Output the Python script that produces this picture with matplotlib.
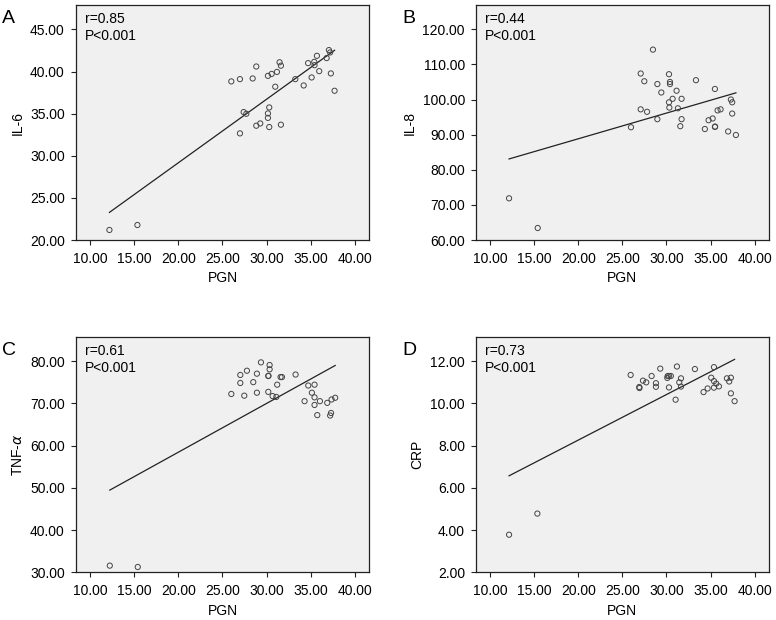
import numpy as np
import matplotlib.pyplot as plt

plt.rcParams['font.family'] = ['Liberation Sans', 'DejaVu Sans']

# PGN (x) and marker values, one panel at a time
pgn_a = [12.19, 15.36, 26.0, 26.98, 28.42, 28.83, 30.15, 30.57, 31.17, 31.47, 31.62, 30.98,
         33.25, 34.2, 34.7, 35.1, 35.4, 35.43, 35.7, 35.96, 36.8, 37.06, 37.2, 37.28, 37.7,
         27.4, 27.7, 30.3, 30.15, 30.15, 28.83, 29.28, 30.3, 31.62, 26.98]
il6 = [21.19, 21.78, 38.83, 39.1, 39.18, 40.6, 39.49, 39.72, 39.96, 41.1, 40.7, 38.2,
       39.1, 38.35, 41.0, 39.3, 41.15, 40.76, 41.87, 40.05, 41.6, 42.55, 42.27, 39.78, 37.72,
       35.19, 34.99, 35.74, 35.03, 34.5, 33.57, 33.84, 33.41, 33.69, 32.66]

pgn_b = [12.15, 15.40, 28.47, 27.08, 27.49, 28.97, 29.42, 30.29, 30.4, 30.4, 31.15, 30.7,
         31.72, 30.29, 30.33, 31.3, 33.35, 35.5, 27.08, 27.8, 28.97, 25.98, 31.72, 31.57,
         34.36, 34.78, 35.24, 35.5, 35.52, 35.8, 36.14, 37.31, 37.46, 37.46, 37.0, 37.88]
il8 = [71.87, 63.42, 114.2, 107.4, 105.2, 104.4, 102.0, 107.2, 105.0, 104.4, 102.5, 100.2,
       100.2, 99.2, 97.7, 97.5, 105.5, 103.0, 97.2, 96.5, 94.4, 92.1, 94.4, 92.4,
       91.6, 94.1, 94.6, 92.2, 92.3, 96.9, 97.2, 100.0, 99.2, 96.0, 90.9, 89.9]

pgn_c = [12.23, 15.40, 29.36, 30.34, 30.34, 30.19, 30.21, 27.77, 28.9, 27.02, 27.02, 28.49,
         31.58, 31.74, 33.28, 31.2, 26.0, 27.47, 28.9, 30.19, 30.68, 31.1, 34.72, 35.43,
         35.13, 35.43, 34.3, 35.43, 36.04, 36.87, 37.36, 37.77, 35.74, 37.2, 37.3]
tnf = [31.58, 31.26, 79.68, 79.05, 78.03, 76.45, 76.5, 77.7, 77.0, 76.7, 74.8, 75.0,
       76.2, 76.2, 76.8, 74.4, 72.2, 71.8, 72.5, 72.7, 71.7, 71.5, 74.2, 74.4,
       72.5, 71.4, 70.5, 69.6, 70.5, 70.1, 70.9, 71.3, 67.2, 67.1, 67.7]

pgn_d = [12.15, 15.36, 25.94, 27.34, 27.71, 26.92, 26.94, 28.32, 28.81, 28.81, 29.3, 30.1,
         30.14, 30.3, 30.5, 30.29, 31.19, 31.46, 31.65, 31.65, 31.04, 33.23, 34.21, 34.67,
         35.39, 35.08, 35.39, 35.39, 35.65, 35.95, 36.86, 37.12, 37.31, 37.31, 37.73]
crp = [3.78, 4.78, 11.34, 11.07, 10.99, 10.77, 10.72, 11.29, 10.95, 10.78, 11.64, 11.2,
       11.29, 11.29, 11.29, 10.75, 11.74, 10.99, 11.18, 10.79, 10.17, 11.62, 10.53, 10.70,
       11.71, 11.21, 11.05, 10.74, 10.93, 10.80, 11.18, 11.03, 11.21, 10.47, 10.10]

# fit lines as drawn in the figure (slope, intercept)
fits = [(0.7545, 14.08), (0.7314, 74.19), (1.1546, 35.33), (0.2154, 3.95)]
r_text = ['r=0.85', 'r=0.44', 'r=0.61', 'r=0.73']
letters = ['A', 'B', 'C', 'D']
ylabels = ['IL-6', 'IL-8', r'TNF-$\alpha$', 'CRP']
yticks = [[20, 25, 30, 35, 40, 45], [60, 70, 80, 90, 100, 110, 120],
          [30, 40, 50, 60, 70, 80], [2, 4, 6, 8, 10, 12]]
ylims = [(20, 47.9), (60, 126.9), (30, 85.6), (2, 13.12)]
xticks = [10, 15, 20, 25, 30, 35, 40]

xs = [pgn_a, pgn_b, pgn_c, pgn_d]
ys = [il6, il8, tnf, crp]

fig = plt.figure(figsize=(7.76, 6.2), dpi=100)
# axes boxes (left, bottom, width, height) in figure fractions
boxes = [(0.0979, 0.6129, 0.3776, 0.379), (0.6134, 0.6129, 0.3772, 0.379),
         (0.0979, 0.0769, 0.3776, 0.379), (0.6134, 0.0769, 0.3772, 0.379)]

for i in range(4):
    ax = fig.add_axes(boxes[i])
    ax.set_facecolor('#f0f0f0')
    x = np.array(xs[i])
    y = np.array(ys[i])
    ax.scatter(x, y, s=14, facecolors='none', edgecolors='#444444', linewidths=0.7, zorder=3)
    m, b = fits[i]
    xl = np.array([x.min(), x.max()])
    ax.plot(xl, m * xl + b, color='#222222', lw=0.9, zorder=2)
    ax.set_xlim(8.4, 41.6)
    ax.set_ylim(*ylims[i])
    ax.set_xticks(xticks)
    ax.set_xticklabels(['%.2f' % v for v in xticks])
    ax.set_yticks(yticks[i])
    ax.set_yticklabels(['%.2f' % v for v in yticks[i]])
    ax.tick_params(labelsize=10, length=3.5, width=0.8, color='#222222')
    ax.tick_params(axis='x', pad=5)
    ax.tick_params(axis='y', pad=4.5)
    for sp in ax.spines.values():
        sp.set_linewidth(0.9)
        sp.set_color('#222222')
    ax.set_xlabel('PGN', fontsize=10, labelpad=4)
    ax.set_ylabel(ylabels[i], fontsize=10, labelpad=4)
    ax.text(0.03, 0.97, r_text[i] + '\nP<0.001', transform=ax.transAxes,
            ha='left', va='top', fontsize=10, linespacing=1.25)
    bx, by, bw, bh = boxes[i]
    fig.text(bx - 0.095, by + bh - 0.008, letters[i], fontsize=14, ha='left', va='top')

fig.savefig('out.png', dpi=100)
